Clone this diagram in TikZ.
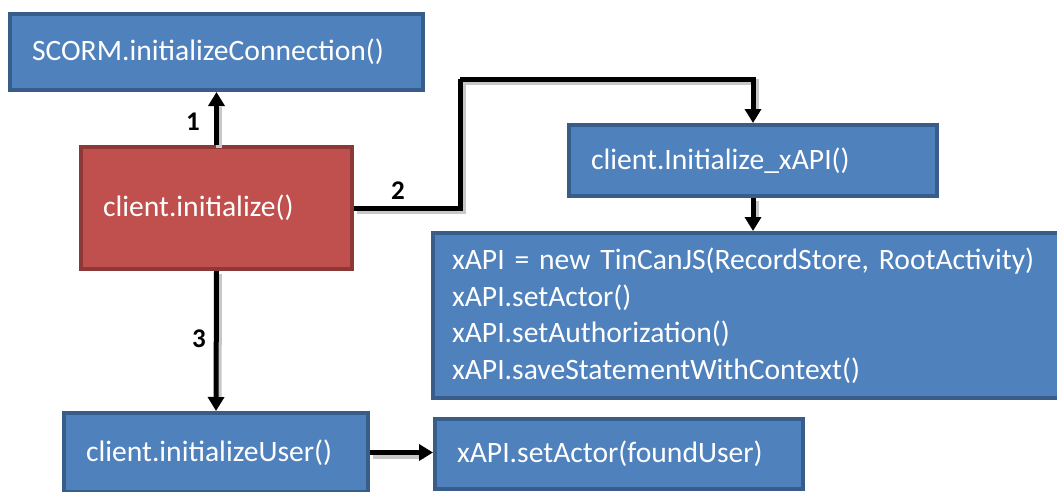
\documentclass[tikz,border=0pt]{standalone}
\usepackage{fontspec}
\setmainfont{Carlito}
\usetikzlibrary{arrows.meta}
\definecolor{boxblue}{HTML}{4F81BD}
\definecolor{boxblueedge}{HTML}{385D8A}
\definecolor{boxred}{HTML}{C0504D}
\definecolor{boxrededge}{HTML}{8C3836}
\tikzset{
  box/.style={draw=boxblueedge, fill=boxblue, line width=4pt, text=white,
    align=left, inner ysep=0pt, inner xsep=22pt, anchor=center,
    font=\fontsize{29.6}{36.5}\selectfont},
  redbox/.style={box, draw=boxrededge, fill=boxred},
  conn/.style={line width=5pt, draw=black,
    -{Triangle[width=16pt,length=14pt]},
    preaction={draw=black!22, line width=6pt, -, shorten >=12pt,
      transform canvas={shift={(2.5pt,-3pt)}}}},
  plainconn/.style={line width=5pt, draw=black,
    preaction={draw=black!22, line width=6pt,
      transform canvas={shift={(2.5pt,-3pt)}}}},
  steplabel/.style={font=\fontsize{27}{30}\bfseries\selectfont, text=black}
}
\begin{document}
\begin{tikzpicture}[x=1pt, y=-1pt]
  \useasboundingbox (0,0) rectangle (1057,491);
  \clip (0,0) rectangle (1057,491);

  % boxes: text width = box width - 2*inner xsep
  \node[box, text width=369pt, minimum height=76pt] (scorm) at (216.5,52)
    {SCORM.initializeConnection()};
  \node[redbox, text width=227pt, minimum height=122pt] (init) at (216.5,208)
    {client.initialize()};
  \node[box, text width=324pt, minimum height=71pt] (initx) at (753,160.5)
    {client.Initialize\_xAPI()};
  \node[box, text width=604pt, minimum height=165pt, inner xsep=19pt] (big) at (754,315.5)
    {xAPI = new TinCanJS(RecordStore, RootActivity)\\
     xAPI.setActor()\\
     xAPI.setAuthorization()\\
     xAPI.saveStatementWithContext()};
  \node[box, text width=260pt, minimum height=79pt] (user) at (216,452.5)
    {client.initializeUser()};
  \node[box, text width=324pt, minimum height=70pt] (found) at (619,454)
    {xAPI.setActor(foundUser)};

  % connectors
  \coordinate (bend) at (460,79);
  \draw[conn] (init.north) -- (scorm.south);
  \draw[plainconn] (init.east) -| (bend);
  \draw[conn] (bend) -| (initx.north);
  \draw[conn] (initx.south) -- (initx.south |- big.north);
  \draw[conn] (init.south) -- (user.north);
  \draw[conn] (user.east) -- (user.east -| found.west);

  % step numbers
  \node[steplabel] (n1) at (193,122) {1};
  \node[steplabel] (n2) at (398,191) {2};
  \node[steplabel] (n3) at (199,339) {3};
\end{tikzpicture}
\end{document}
